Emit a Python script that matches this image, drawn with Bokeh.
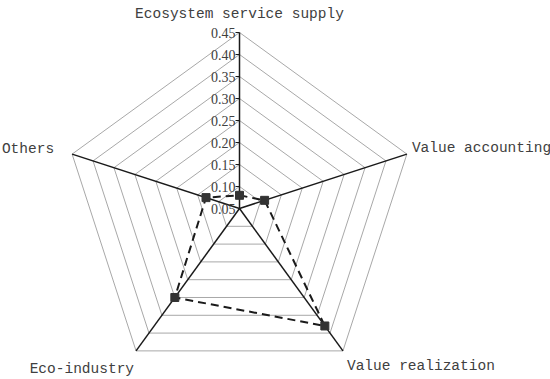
import math
from bokeh.plotting import figure
from bokeh.models import ColumnDataSource
from bokeh.core.properties import value
from bokeh.embed import file_html
from bokeh.resources import INLINE

categories = ["Ecosystem service supply", "Value accounting", "Value realization",
              "Eco-industry", "Others"]
values = [0.08, 0.11, 0.38, 0.30, 0.13]
tick_values = [0.05, 0.10, 0.15, 0.20, 0.25, 0.30, 0.35, 0.40, 0.45]
tick_labels = ["0.05", "0.10", "0.15", "0.20", "0.25", "0.30", "0.35", "0.40", "0.45"]
r_min = 0.05
r_max = 0.45

n = len(categories)
angles = [math.pi / 2 - 2 * math.pi * i / n for i in range(n)]


def pt(v, a):
    r = v - r_min
    return r * math.cos(a), r * math.sin(a)


W, H = 550, 379
scale = 440.0  # px per unit
cx, cy = 239.0, 208.0
p = figure(width=W, height=H, output_backend="svg", toolbar_location=None,
           x_range=(-cx / scale, (W - cx) / scale),
           y_range=(-(H - cy) / scale, cy / scale),
           min_border=0, background_fill_color="white")
p.axis.visible = False
p.grid.visible = False
p.outline_line_color = None

# rings
ring_xs, ring_ys = [], []
for tv in tick_values[1:]:
    xs, ys = [], []
    for a in angles + [angles[0]]:
        x, y = pt(tv, a)
        xs.append(x)
        ys.append(y)
    ring_xs.append(xs)
    ring_ys.append(ys)
p.multi_line(ring_xs, ring_ys, line_color="#a8a8a8", line_width=1)

# spokes
sx0, sy0, sx1, sy1 = [], [], [], []
for a in angles:
    x0, y0 = pt(r_min, a)
    x1, y1 = pt(r_max, a)
    sx0.append(x0); sy0.append(y0); sx1.append(x1); sy1.append(y1)
p.segment(sx0, sy0, sx1, sy1, line_color="#1a1a1a", line_width=1.5)

# tick marks and labels along top axis
tx = [pt(tv, angles[0])[0] for tv in tick_values]
ty = [pt(tv, angles[0])[1] for tv in tick_values]
p.ray(tx[1:], ty[1:], length=4, length_units="screen", angle=math.pi,
      line_color="#1a1a1a", line_width=1)
p.text(tx, ty, text=tick_labels, text_align="right", text_baseline="middle",
       x_offset=-4, text_font=value("Liberation Serif"), text_font_size="14px",
       text_color="#404040")

# series
dx, dy = [], []
for v, a in zip(values, angles):
    x, y = pt(v, a)
    dx.append(x); dy.append(y)
p.line(dx + [dx[0]], dy + [dy[0]], line_color="#1a1a1a", line_width=2,
       line_dash="8 5")
p.scatter(dx, dy, marker="square", size=8, fill_color="#333333",
          line_color="#333333")

# category labels
lx = [pt(r_max, a)[0] for a in angles]
ly = [pt(r_max, a)[1] for a in angles]
aligns = ["center", "left", "left", "right", "right"]
xoffs = [0, 5, 4, -2, -18]
yoffs = [-11, -6, 15, 18, -5]
baselines = ["bottom", "middle", "middle", "middle", "middle"]
src = ColumnDataSource(dict(x=lx, y=ly, t=categories, al=aligns, xo=xoffs,
                            yo=yoffs, bl=baselines))
p.text("x", "y", text="t", source=src, text_align="al", text_baseline="bl",
       x_offset="xo", y_offset="yo", text_font=value("Liberation Mono"),
       text_font_size="14.5px", text_color="#404040")

open("out.html", "w").write(file_html(p, INLINE))
